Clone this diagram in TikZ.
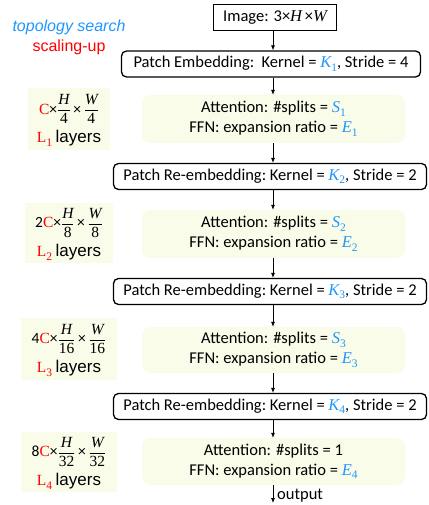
\documentclass[tikz,border=0pt]{standalone}
\usepackage{amsmath}
\usepackage{fontspec}
\setmainfont{Carlito}
\newfontfamily\arialf{Liberation Sans}
\newfontfamily\serif{Liberation Serif}
\usetikzlibrary{arrows.meta}
\definecolor{tblue}{RGB}{30,150,255}
\definecolor{tred}{RGB}{255,0,0}
\definecolor{tgreen}{RGB}{250,252,234}
\newcommand{\mi}[1]{{\serif\itshape #1}}
\newcommand{\lsub}[1]{\raisebox{-3.5pt}{\serif\fontsize{11.5}{12}\selectfont #1}}
\newcommand{\bv}[2]{\textcolor{tblue}{\mi{#1}\lsub{#2}}}
\newcommand{\fr}[2]{$\dfrac{\text{\mi{#1}}}{\text{\serif #2}}$}
\newcommand{\tm}{\,×\,}
\begin{document}
\begin{tikzpicture}[x=1pt,y=-1pt,
  boxtxt/.style={font=\fontsize{16.5}{20}\selectfont},
  rebox/.style={boxtxt,draw,line width=1.3pt,rounded corners=5pt,minimum height=26pt,inner sep=0pt},
  blockbox/.style={boxtxt,fill=tgreen,rounded corners=8pt,minimum width=263pt,inner sep=0pt,align=center},
  sidebox/.style={fill=tgreen,inner sep=0pt,align=center},
  sidetxt/.style={font=\fontsize{15.5}{18}\selectfont,inner sep=0pt},
  arr/.style={-{Latex[length=5pt,width=4pt]},line width=0.7pt}]
\useasboundingbox (0,0) rectangle (428,505);
% header texts
\node[font=\arialf\itshape\fontsize{16}{18}\selectfont,text=tblue] (ts) at (69,27) {topology search};
\node[font=\arialf\fontsize{16}{18}\selectfont,text=tred] (su) at (69,47) {scaling-up};
% main column
\node[boxtxt,draw,line width=1.3pt,minimum width=123pt,minimum height=26pt,inner sep=0pt] (img) at (275,17.5) {Image: 3×\mi{H}\,×\mi{W}};
\node[rebox,minimum width=299pt] (pe) at (271,64) {Patch Embedding:\ \ Kernel = \bv{K}{1}, Stride = 4};
\node[blockbox,minimum height=48pt] (g1) at (273.5,119) {Attention: \#splits = \bv{S}{1}\\ FFN: expansion ratio = \bv{E}{1}};
\node[rebox,minimum width=313pt] (r2) at (270,176.5) {Patch Re-embedding:\ Kernel = \bv{K}{2}, Stride = 2};
\node[blockbox,minimum height=48pt] (g2) at (273.5,234) {Attention: \#splits = \bv{S}{2}\\ FFN: expansion ratio = \bv{E}{2}};
\node[rebox,minimum width=313pt] (r3) at (270,291.5) {Patch Re-embedding:\ Kernel = \bv{K}{3}, Stride = 2};
\node[blockbox,minimum height=46pt] (g3) at (273.5,350) {Attention: \#splits = \bv{S}{3}\\ FFN: expansion ratio = \bv{E}{3}};
\node[rebox,minimum width=313pt] (r4) at (270,406.5) {Patch Re-embedding:\ Kernel = \bv{K}{4}, Stride = 2};
\node[blockbox,minimum height=47pt] (g4) at (273.5,461.5) {Attention: \#splits = 1\\ FFN: expansion ratio = \bv{E}{4}};
\coordinate (out) at (273,503);
\node[boxtxt,anchor=west,inner sep=0pt] (outl) at (277,496) {output};
% arrows
\draw[arr] (img.south) ++(-2,0) coordinate (a0) -- (a0 |- pe.north);
\draw[arr] (pe.south -| a0) -- (a0 |- g1.north);
\draw[arr] (g1.south -| a0) -- (a0 |- r2.north);
\draw[arr] (r2.south -| a0) -- (a0 |- g2.north);
\draw[arr] (g2.south -| a0) -- (a0 |- r3.north);
\draw[arr] (r3.south -| a0) -- (a0 |- g3.north);
\draw[arr] (g3.south -| a0) -- (a0 |- r4.north);
\draw[arr] (r4.south -| a0) -- (a0 |- g4.north);
\draw[arr] (g4.south -| a0) -- (out);
% side labels
\node[sidebox,minimum width=82pt,minimum height=62pt] (l1) at (69,119) {};
\node[sidetxt] (f1) at (69,109) {\textcolor{tred}{\serif C}×\fr{H}{4}\tm\fr{W}{4}};
\node[sidetxt] (n1) at (69,138.5) {\textcolor{tred}{\serif L\lsub{1}} {\arialf\fontsize{17}{19}\selectfont layers}};
\node[sidebox,minimum width=88pt,minimum height=60pt] (l2) at (69,233) {};
\node[sidetxt] (f2) at (69,223) {2\textcolor{tred}{\serif C}×\fr{H}{8}\tm\fr{W}{8}};
\node[sidetxt] (n2) at (69,252.5) {\textcolor{tred}{\serif L\lsub{2}} {\arialf\fontsize{17}{19}\selectfont layers}};
\node[sidebox,minimum width=96pt,minimum height=62pt] (l3) at (69,349) {};
\node[sidetxt] (f3) at (69,339) {4\textcolor{tred}{\serif C}×\fr{H}{16}\tm\fr{W}{16}};
\node[sidetxt] (n3) at (69,368.5) {\textcolor{tred}{\serif L\lsub{3}} {\arialf\fontsize{17}{19}\selectfont layers}};
\node[sidebox,minimum width=96pt,minimum height=60pt] (l4) at (69,462) {};
\node[sidetxt] (f4) at (69,452) {8\textcolor{tred}{\serif C}×\fr{H}{32}\tm\fr{W}{32}};
\node[sidetxt] (n4) at (69,481.5) {\textcolor{tred}{\serif L\lsub{4}} {\arialf\fontsize{17}{19}\selectfont layers}};
\end{tikzpicture}
\end{document}
